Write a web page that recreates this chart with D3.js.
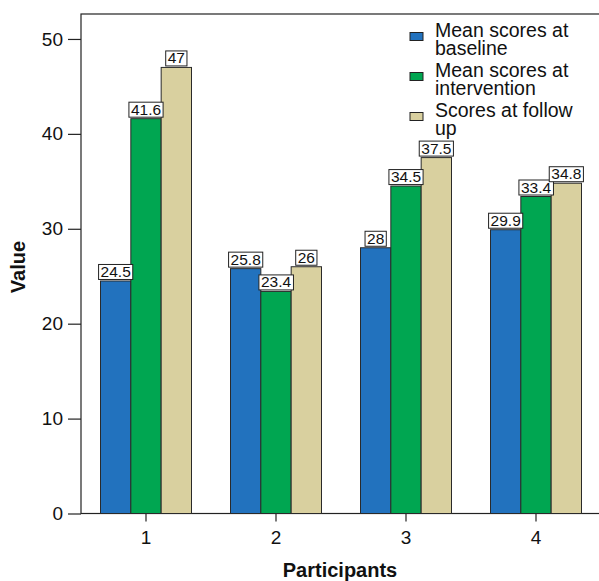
<!DOCTYPE html>
<html>
<head>
<meta charset="utf-8">
<script src="https://cdn.jsdelivr.net/npm/d3@7"></script>
<style>
  body { margin: 0; background: #fff; }
  svg { display: block; font-family: "Liberation Sans", Arial, sans-serif; }
</style>
</head>
<body>
<svg id="chart" width="599" height="581"></svg>
<script>
const categories = ["1", "2", "3", "4"];
const seriesNames = ["Mean scores at baseline", "Mean scores at intervention", "Scores at follow up"];
const legendLines = [["Mean scores at", "baseline"], ["Mean scores at", "intervention"], ["Scores at follow", "up"]];
const baseline = [24.5, 25.8, 28, 29.9];
const intervention = [41.6, 23.4, 34.5, 33.4];
const followUp = [47, 26, 37.5, 34.8];
const yTicks = [0, 10, 20, 30, 40, 50];
const colors = ["#2272be", "#00a651", "#d9d09f"];

const series = [baseline, intervention, followUp];
const svg = d3.select("#chart");

const mLeft = 81, mRight = 601, mTop = 14, mBottom = 513.5;
const y = d3.scaleLinear().domain([0, 52.63]).range([mBottom, mTop]);
const x = d3.scaleBand().domain(categories).range([mLeft, mRight]).paddingInner(0.3).paddingOuter(0.15);
const xs = d3.scaleBand().domain(d3.range(series.length)).range([0, x.bandwidth()]);

// frame
svg.append("rect").attr("x", mLeft).attr("y", mTop).attr("width", mRight - mLeft).attr("height", mBottom - mTop)
  .attr("fill", "none").attr("stroke", "#222").attr("stroke-width", 1.2);

// bars
const rows = [];
categories.forEach((c, ci) => series.forEach((s, si) => rows.push({c, si, v: s[ci]})));

svg.append("g").selectAll("rect").data(rows).join("rect")
  .attr("x", d => x(d.c) + xs(d.si))
  .attr("y", d => y(d.v))
  .attr("width", xs.bandwidth())
  .attr("height", d => y(0) - y(d.v))
  .attr("fill", d => colors[d.si])
  .attr("stroke", "#2a2a2a").attr("stroke-width", 1);

// value labels
const lab = svg.append("g").selectAll("g").data(rows).join("g")
  .attr("transform", d => `translate(${x(d.c) + xs(d.si) + xs.bandwidth() / 2},${y(d.v) - 1.5})`);
lab.append("text").text(d => d3.format("")(d.v))
  .attr("text-anchor", "middle").attr("y", -2.5).attr("font-size", 15.5).attr("fill", "#111")
  .each(function() {
    const bb = this.getBBox();
    d3.select(this.parentNode).insert("rect", "text")
      .attr("x", bb.x - 2).attr("y", -15).attr("width", bb.width + 4).attr("height", 15)
      .attr("fill", "#fff").attr("stroke", "#222").attr("stroke-width", 1);
  });

// y axis
const yAxis = svg.append("g").attr("transform", `translate(${mLeft},0)`)
  .call(d3.axisLeft(y).tickValues(yTicks).tickSize(13).tickPadding(5).tickFormat(d3.format("d")));
yAxis.select(".domain").remove();
yAxis.selectAll("line").attr("stroke", "#222").attr("stroke-width", 1.2);
yAxis.selectAll("text").attr("font-size", 19).attr("fill", "#111").attr("font-family", "Liberation Sans, Arial, sans-serif");

// x axis
const xAxis = svg.append("g").attr("transform", `translate(0,${mBottom})`)
  .call(d3.axisBottom(x).tickSize(8).tickPadding(9));
xAxis.select(".domain").remove();
xAxis.selectAll("line").attr("stroke", "#222").attr("stroke-width", 1.2);
xAxis.selectAll("text").attr("font-size", 19).attr("fill", "#111").attr("font-family", "Liberation Sans, Arial, sans-serif");

// axis titles
svg.append("text").attr("transform", "translate(25,267) rotate(-90)").attr("text-anchor", "middle")
  .attr("font-size", 20).attr("font-weight", "bold").attr("fill", "#111").text("Value");
svg.append("text").attr("x", 340).attr("y", 577).attr("text-anchor", "middle")
  .attr("font-size", 20).attr("font-weight", "bold").attr("fill", "#111").text("Participants");

// legend
const lg = svg.append("g").selectAll("g").data(seriesNames).join("g")
  .attr("transform", (d, i) => `translate(410,${37 + i * 40})`);
lg.append("rect").attr("x", 0).attr("y", -4.5).attr("width", 13).attr("height", 8)
  .attr("fill", (d, i) => colors[i]).attr("stroke", "#222").attr("stroke-width", 1);
lg.append("text").attr("x", 25).attr("font-size", 19.5).attr("fill", "#111")
  .selectAll("tspan").data((d, i) => legendLines[i]).join("tspan")
  .attr("x", 25).attr("dy", (d, j) => j === 0 ? 0 : 18).text(d => d);
</script>
</body>
</html>
